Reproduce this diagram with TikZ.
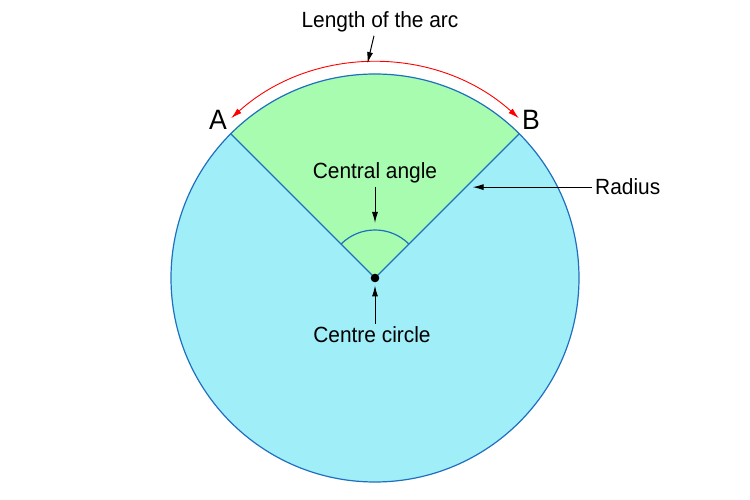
\documentclass[tikz,border=0pt]{standalone}
\usepackage{fontspec}
\setmainfont[FakeStretch=0.95]{Liberation Sans}
\usetikzlibrary{arrows.meta}
\definecolor{discblue}{HTML}{A0EEF8}
\definecolor{sectgreen}{HTML}{A8FCB0}
\definecolor{rimblue}{HTML}{1F6FC0}
\tikzstyle{txt} = [inner sep=3pt, font=\fontsize{22}{26}\selectfont]
\tikzstyle{letter} = [inner sep=3pt, font=\fontsize{28}{32}\selectfont]
\tikzstyle{rim} = [draw=rimblue, line width=1.2pt]
\tikzstyle{arrow} = [line width=1pt,->,>={Latex[length=11pt,width=6pt]}]

\begin{document}
\begin{tikzpicture}[x=1pt,y=1pt]
\useasboundingbox (0,0) rectangle (750,500);
\coordinate (O) at (375,222);
\coordinate (A) at ([shift={(135:204)}]O);
\coordinate (B) at ([shift={(45:204)}]O);
% disc and sector
\fill[discblue] (O) circle (204);
\fill[sectgreen] (O) -- (A) arc (135:45:204) -- cycle;
\draw[rim] (O) circle (204);
\draw[rim] (A) -- (O) -- (B);
\draw[rim] ([shift={(135:48)}]O) arc (135:45:48);
\node(dot)[circle, fill=black, inner sep=0pt, minimum size=8.6pt] at (O){};
% length of the arc
\draw[red, line width=0.9pt, <->, >={Latex[length=11pt,width=6pt]}] ([shift={(132:215)}]O) arc (132:48:215);
\coordinate (arctop) at ([shift={(92:215)}]O);
\node(lenlab)[txt, anchor=base] at (380,472){Length of the arc};
\draw[arrow] ([xshift=-6pt]lenlab.south) -- (arctop);
\node(Alab)[letter, anchor=base] at (218,370){A};
\node(Blab)[letter, anchor=base] at (531,370){B};
% angle, centre and radius
\coordinate (angtop) at ([shift={(90:55)}]O);
\node(anglab)[txt, anchor=base] at (375,321){Central angle};
\draw[arrow] (anglab.south) -- (angtop);
\node(cenlab)[txt, anchor=base] at (372,157){Centre circle};
\draw[arrow] (dot |- cenlab.north) -- ([yshift=-3pt]dot.south);
\coordinate (radpt) at ([shift={(45:131)}]O);
\node(radlab)[txt, anchor=base west] at (592,305){Radius};
\draw[arrow, shorten >=5pt] (radlab.west) -- (radlab.west -| radpt);

\end{tikzpicture}
\end{document}
